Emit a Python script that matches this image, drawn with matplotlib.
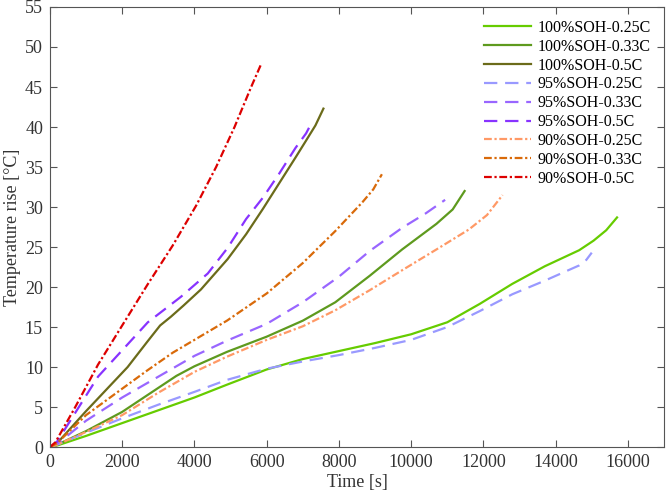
import matplotlib.pyplot as plt

plt.rcParams['font.family'] = ['Liberation Serif', 'DejaVu Serif']

# data (time [s], temperature rise [C])
t_100_025 = [0, 200, 1000, 2000, 3000, 4000, 4900, 6000, 7000, 8000, 9000, 10000, 11000, 11900, 12800, 13700, 14650, 15050, 15400, 15700]
T_100_025 = [0, 0.2, 1.4, 3.0, 4.6, 6.2, 7.8, 9.7, 11.0, 12.0, 13.0, 14.1, 15.6, 17.9, 20.4, 22.6, 24.6, 25.8, 27.1, 28.7]

t_100_033 = [0, 200, 1000, 2000, 3000, 3500, 4000, 4900, 6000, 7000, 7900, 8850, 9750, 10700, 11150, 11480]
T_100_033 = [0, 0.3, 2.0, 4.4, 7.4, 8.9, 10.1, 11.9, 13.8, 15.8, 18.1, 21.4, 24.7, 27.9, 29.7, 32.0]

t_100_05 = [0, 200, 1000, 2150, 2700, 3050, 3350, 3700, 4180, 4920, 5430, 5900, 6350, 6800, 7090, 7350, 7571]
T_100_05 = [0, 0.5, 4.5, 10.0, 13.2, 15.2, 16.3, 17.7, 19.7, 23.5, 26.6, 29.8, 33.0, 36.2, 38.3, 40.2, 42.3]

t_95_025 = [0, 200, 1000, 2000, 3000, 4000, 4900, 6000, 7000, 8000, 9000, 10000, 11000, 11900, 12800, 13700, 14650, 14850, 15000]
T_95_025 = [0, 0.3, 1.8, 3.6, 5.3, 6.9, 8.4, 9.8, 10.7, 11.5, 12.4, 13.4, 15.0, 17.0, 19.1, 20.8, 22.7, 23.4, 24.3]

t_95_033 = [0, 200, 1000, 2000, 3000, 4000, 4900, 6000, 7000, 8000, 8850, 9750, 10400, 10940]
T_95_033 = [0, 0.4, 3.3, 6.2, 8.8, 11.4, 13.3, 15.4, 18.1, 21.3, 24.5, 27.4, 29.2, 30.9]

t_95_05 = [0, 200, 1330, 2000, 2710, 3200, 3630, 4370, 4920, 5430, 5900, 6350, 6800, 7090, 7230]
T_95_05 = [0, 0.7, 8.8, 12.1, 15.6, 17.3, 18.8, 21.7, 24.9, 28.5, 31.2, 34.2, 37.4, 39.2, 40.4]

t_90_025 = [0, 200, 1000, 2000, 3000, 4000, 4900, 6000, 7000, 7900, 8850, 9750, 10700, 11600, 12100, 12530]
T_90_025 = [0, 0.3, 1.9, 4.0, 6.8, 9.4, 11.3, 13.4, 15.1, 17.1, 19.6, 22.1, 24.7, 27.2, 29.0, 31.5]

t_90_033 = [0, 200, 1000, 2000, 2700, 3400, 4000, 4900, 6000, 7000, 7900, 8650, 8950, 9190]
T_90_033 = [0, 0.5, 4.0, 7.3, 9.6, 11.8, 13.4, 15.8, 19.2, 23.0, 27.0, 30.6, 32.2, 34.1]

t_90_05 = [0, 150, 700, 1330, 2000, 2700, 3400, 4050, 4600, 5110, 5570, 5850]
T_90_05 = [0, 0.6, 5.0, 10.3, 15.2, 20.3, 25.2, 30.2, 35.0, 40.0, 45.0, 47.9]

labels = ['100%SOH-0.25C', '100%SOH-0.33C', '100%SOH-0.5C',
          '95%SOH-0.25C', '95%SOH-0.33C', '95%SOH-0.5C',
          '90%SOH-0.25C', '90%SOH-0.33C', '90%SOH-0.5C']

colors = ['#66CC00', '#5E9A1E', '#6B6B1A',
          '#9999FF', '#9966FF', '#8833FF',
          '#FF9966', '#D96A0A', '#DD0000']

dashed = (0, (6, 3.5))
dashdot = (0, (3.5, 1.2, 1, 1.2))
styles = ['-', '-', '-', dashed, dashed, dashed, dashdot, dashdot, dashdot]

series = [(t_100_025, T_100_025), (t_100_033, T_100_033), (t_100_05, T_100_05),
          (t_95_025, T_95_025), (t_95_033, T_95_033), (t_95_05, T_95_05),
          (t_90_025, T_90_025), (t_90_033, T_90_033), (t_90_05, T_90_05)]

fig, ax = plt.subplots(figsize=(6.66, 4.99), dpi=100)
fig.subplots_adjust(left=0.075, right=0.997, bottom=0.104, top=0.986)

for (t, T), lab, c, ls in zip(series, labels, colors, styles):
    ax.plot(t, T, color=c, linestyle=ls, linewidth=1.6, label=lab)

ax.set_xlim(0, 17000)
ax.set_ylim(0, 55)
ax.set_xticks(range(0, 16001, 2000))
ax.set_yticks(range(0, 56, 5))
ax.set_xlabel('Time [s]', fontsize=13, color='#333333', labelpad=2)
ax.set_ylabel('Temperature rise [\u00b0C]', fontsize=13, color='#333333', labelpad=3)

# matlab-like box with inward ticks on all sides
ax.tick_params(direction='in', top=True, right=True, labelsize=13,
               colors='#555555', labelcolor='#333333', length=5, pad=5)
for sp in ax.spines.values():
    sp.set_color('#555555')

ax.legend(loc='upper right', frameon=False, fontsize=11.5, handlelength=2.9,
          labelspacing=0.18, handletextpad=0.45, borderaxespad=0.4)

plt.savefig('out.png', dpi=100)
